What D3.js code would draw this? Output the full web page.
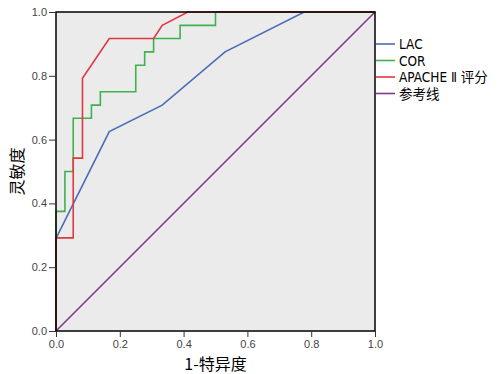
<!DOCTYPE html>
<html>
<head>
<meta charset="utf-8">
<script src="https://cdn.jsdelivr.net/npm/d3@7"></script>
<style>
  body { margin: 0; background: #fff; }
  svg text { font-family: "Liberation Sans", Arial, sans-serif; }
</style>
</head>
<body>
<div id="chart"></div>
<script>
// ROC curves, values
const tickValues = [0.0, 0.2, 0.4, 0.6, 0.8, 1.0]
const seriesNames = ['LAC', 'COR', 'APACHE Ⅱ 评分', '参考线']
const seriesColors = ['#4a6cb6', '#3fb24d', '#e0393f', '#7c3b86']

const lacFpr = [0, 0, 0.167, 0.333, 0.53, 0.778, 1]
const lacTpr = [0, 0.29, 0.625, 0.708, 0.875, 1, 1]

const corFpr = [0, 0, 0.028, 0.028, 0.054, 0.054, 0.111, 0.111, 0.139, 0.139, 0.25, 0.25, 0.278, 0.278, 0.306, 0.306, 0.389, 0.389, 0.5, 0.5, 1]
const corTpr = [0, 0.375, 0.375, 0.5, 0.5, 0.667, 0.667, 0.708, 0.708, 0.75, 0.75, 0.833, 0.833, 0.875, 0.875, 0.917, 0.917, 0.958, 0.958, 1, 1]

const apacheFpr = [0, 0, 0.054, 0.054, 0.083, 0.083, 0.167, 0.306, 0.333, 0.413, 1]
const apacheTpr = [0, 0.292, 0.292, 0.542, 0.542, 0.792, 0.917, 0.917, 0.958, 1, 1]

const refFpr = [0, 1]
const refTpr = [0, 1]

const margin = { top: 12, left: 56 }
const size = 319

const svg = d3.select('#chart')
    .append('svg')
    .attr('width', 500)
    .attr('height', 374)

const g = svg.append('g')
    .attr('transform', `translate(${margin.left}, ${margin.top})`)

let xScale = d3.scaleLinear().domain([0, 1]).range([0, size])
let yScale = d3.scaleLinear().domain([0, 1]).range([size, 0])

// plot background
g.append('rect')
    .attr('width', size)
    .attr('height', size)
    .attr('fill', '#ebebeb')

let series = [
    lacFpr.map((x, i) => ({ x: x, y: lacTpr[i] })),
    corFpr.map((x, i) => ({ x: x, y: corTpr[i] })),
    apacheFpr.map((x, i) => ({ x: x, y: apacheTpr[i] })),
    refFpr.map((x, i) => ({ x: x, y: refTpr[i] }))
]

let line = d3.line()
    .x(d => xScale(d.x))
    .y(d => yScale(d.y))

// draw order: reference first, then LAC, COR, APACHE on top
let order = [3, 0, 1, 2]
order.forEach(k => {
    g.append('path')
        .attr('d', line(series[k]))
        .attr('fill', 'none')
        .attr('stroke', seriesColors[k])
        .attr('stroke-width', 1.6)
})

// frame
g.append('rect')
    .attr('width', size)
    .attr('height', size)
    .attr('fill', 'none')
    .attr('stroke', '#000')
    .attr('stroke-width', 1.5)

let fmt = d3.format('.1f')
let xAxis = d3.axisBottom(xScale)
    .tickValues(tickValues)
    .tickFormat(fmt)
    .tickSizeInner(6)
    .tickSizeOuter(0)
    .tickPadding(3)
let yAxis = d3.axisLeft(yScale)
    .tickValues(tickValues)
    .tickFormat(fmt)
    .tickSizeInner(7)
    .tickSizeOuter(0)
    .tickPadding(2)

let ax = g.append('g')
    .attr('transform', `translate(0, ${size})`)
    .call(xAxis)
let ay = g.append('g')
    .call(yAxis)
;[ax, ay].forEach(a => {
    a.select('.domain').remove()
    a.selectAll('line').attr('stroke', '#333')
    a.selectAll('text')
        .attr('font-size', '11px')
        .attr('fill', '#444')
        .style('font-family', '"Liberation Sans", Arial, sans-serif')
})

// axis titles
svg.append('text')
    .attr('x', margin.left + size / 2)
    .attr('y', 370)
    .attr('text-anchor', 'middle')
    .attr('font-size', '16px')
    .style('font-family', '"Noto Sans CJK SC", sans-serif')
    .text('1-特异度')

svg.append('text')
    .attr('transform', `translate(23, ${margin.top + size / 2}) rotate(-90)`)
    .attr('text-anchor', 'middle')
    .attr('font-size', '16px')
    .style('font-family', '"Noto Sans CJK SC", sans-serif')
    .text('灵敏度')

// legend
let legend = svg.append('g')
    .attr('transform', 'translate(376, 44)')
seriesNames.forEach((name, i) => {
    let row = legend.append('g').attr('transform', `translate(0, ${i * 16.5})`)
    row.append('line')
        .attr('x1', 0).attr('x2', 19)
        .attr('y1', 0).attr('y2', 0)
        .attr('stroke', seriesColors[i])
        .attr('stroke-width', 1.6)
    row.append('text')
        .attr('x', 23)
        .attr('y', 5)
        .attr('font-size', '13.5px')
        .style('font-family', '"DejaVu Sans Condensed", "DejaVu Sans", "Noto Sans CJK SC", sans-serif')
        .style('font-stretch', 'condensed')
        .text(name)
})
</script>
</body>
</html>
